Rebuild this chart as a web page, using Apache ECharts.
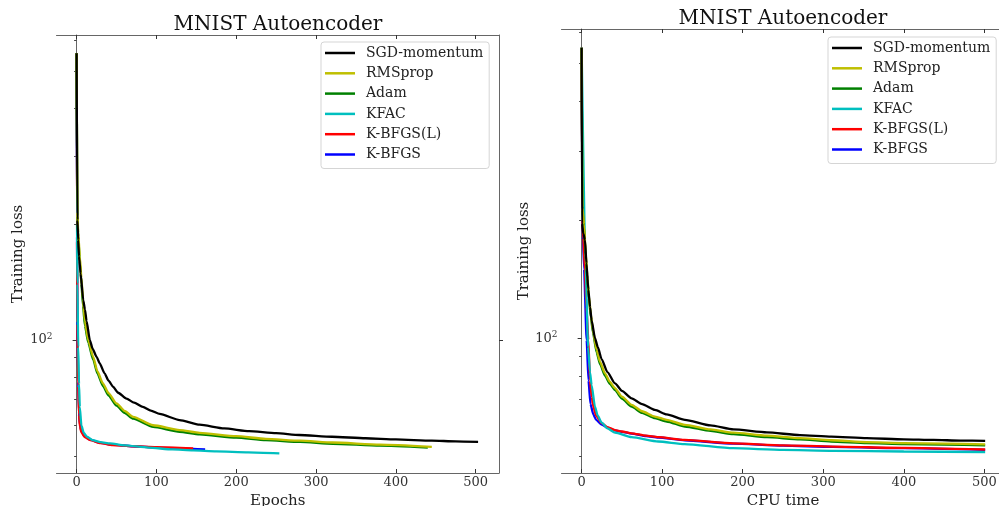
<!DOCTYPE html>
<html>
<head>
<meta charset="utf-8">
<script src="https://cdn.jsdelivr.net/npm/echarts@6.0.0/dist/echarts.min.js"></script>
<style>
  html, body { margin: 0; padding: 0; background: #fff; }
  #chart { width: 999px; height: 506px; }
</style>
</head>
<body>
<div id="chart"></div>
<script>
  // legend / series names
  const methods = ['SGD-momentum', 'RMSprop', 'Adam', 'KFAC', 'K-BFGS(L)', 'K-BFGS'];
  const colors = ['#000000', '#bfbf00', '#008000', '#00bfbf', '#ff0000', '#0000ff'];

  // tick values
  const xTicks = [0, 100, 200, 300, 400, 500];
  const lossMajorTicks = [100];
  const lossMinorTicks = [50, 60, 70, 80, 90, 200, 300, 400, 500, 600];

  // training loss vs epochs, [epoch, loss]
  const epochSgd = [[0, 556], [1, 205], [2, 182], [3, 165], [5, 149], [8.3, 127], [10.5, 120], [12.5, 112], [16.6, 100], [20, 95], [25, 90.5], [29, 87], [35, 82], [40, 78.5], [45.8, 75.6], [52, 73], [62.5, 70.5], [72, 68.8], [83, 67.1], [93, 65.6], [104, 64.3], [129, 62.0], [154, 60.3], [185, 59.0], [216, 58.0], [250, 57.3], [279, 56.7], [320, 56.1], [362, 55.6], [400, 55.2], [445, 54.8], [475, 54.6], [503, 54.4]];
  const epochRmsprop = [[0, 556], [1, 215], [2, 190], [4, 165], [6, 145], [8, 127], [10.4, 112], [14.5, 100], [20.8, 90.5], [26, 83], [33, 77.2], [40, 72.8], [50, 68.5], [60, 65.5], [70.8, 63.2], [95.8, 60.1], [129, 58.4], [154, 57.4], [200, 56.3], [237, 55.4], [280, 54.8], [321, 54.2], [380, 53.5], [445, 52.8]];
  const epochAdam = [[0, 556], [1, 210], [2, 186], [4, 160], [6, 140], [8, 123], [10.4, 109], [14.5, 98.5], [20.8, 89], [26, 82], [33, 76], [40, 71.8], [50, 67.6], [60, 64.7], [70.8, 62.5], [95.8, 59.5], [129, 57.8], [154, 56.9], [200, 55.8], [237, 55.0], [280, 54.4], [321, 53.8], [380, 53.2], [440, 52.6]];
  const epochKfac = [[0, 556], [0.5, 200], [1, 140], [2, 96], [3, 77], [4, 67], [6, 60], [9, 57.4], [13, 56.1], [20, 55.0], [30, 54.3], [42, 53.9], [60, 53.3], [90, 52.6], [120, 52.0], [146, 51.7], [175, 51.4], [215, 51.1], [254, 50.8]];
  const epochKbfgsL = [[0, 556], [0.5, 180], [1, 110], [2, 76], [3, 64], [4, 59.8], [6, 57.6], [10, 56.0], [17, 55.0], [30, 54.0], [45, 53.4], [70, 53.0], [100, 52.7], [146, 52.3]];
  const epochKbfgs = [[0, 556], [0.5, 185], [1, 112], [2, 78], [3, 65], [4, 60.5], [6, 58], [10, 56.2], [17, 55.1], [30, 54.1], [45, 53.5], [70, 53.0], [100, 52.6], [146, 52.2], [161, 52.0]];

  // training loss vs CPU time, [time, loss]
  const timeSgd = [[0, 549], [0.5, 196], [2, 185], [4.1, 178], [6, 155], [8.3, 133], [10.5, 120], [12.4, 111], [16.6, 100], [20, 95], [24.8, 88.5], [32, 82], [41.4, 76.8], [50, 73.5], [62.1, 70.3], [75, 68], [91, 65.7], [105.6, 64], [128.3, 62.0], [160, 60], [188.4, 58.6], [230, 57.6], [271, 56.7], [310, 56.2], [354, 55.7], [400, 55.3], [437, 55.1], [470, 54.9], [501, 54.8]];
  const timeRmsprop = [[0, 549], [1, 215], [3, 195], [5, 165], [7, 145], [9, 128], [11.5, 115], [14, 105], [18.6, 93.4], [23, 87], [29, 81.4], [35, 77.5], [41.4, 74.6], [50, 71], [62.1, 67.7], [75, 65.2], [91, 63.2], [105.6, 62.0], [128.3, 60.2], [160, 58.6], [188.4, 57.5], [230, 56.5], [271, 55.7], [310, 55.0], [354, 54.4], [400, 54.1], [450, 53.9], [501, 53.7]];
  const timeAdam = [[0, 549], [1, 212], [3, 192], [5, 162], [7, 142], [9, 126], [11.5, 113], [14, 103.5], [18.6, 92], [23, 85.8], [29, 80.3], [35, 76.6], [41.4, 73.8], [50, 70.2], [62.1, 67], [75, 64.6], [91, 62.6], [105.6, 61.4], [128.3, 59.6], [160, 58.1], [188.4, 57.0], [230, 56.0], [271, 55.3], [310, 54.6], [354, 54.1], [400, 53.8], [450, 53.6], [501, 53.4]];
  const timeKfac = [[0, 549], [5, 150], [8, 95], [10.4, 82], [12.4, 76], [16.5, 67], [20, 63.5], [24.8, 61], [32, 59], [41.4, 57.5], [62.1, 56], [95, 54.6], [128, 53.8], [188, 52.5], [250, 52.0], [312, 51.7], [400, 51.5], [501, 51.3]];
  const timeKbfgsL = [[0, 549], [1, 200], [2, 180], [4, 150], [6, 120], [8.3, 99], [10.4, 78], [12.5, 71], [14.5, 67], [18, 63.5], [24.8, 60.8], [32, 59.4], [41.4, 58.4], [50, 57.9], [62.1, 57.3], [80, 56.5], [95, 56.0], [128, 55.1], [188, 54.0], [250, 53.4], [312, 53.0], [400, 52.6], [501, 52.1]];
  const timeKbfgs = [[0, 549], [1, 200], [3, 150], [6.2, 99], [8.5, 78], [11, 68], [14.5, 64], [18, 62], [24.8, 60.3], [32, 59.2], [41.4, 58.3], [50, 57.8], [62.1, 57.2], [80, 56.4], [95, 55.9], [128, 55.0], [188, 53.9], [250, 53.3], [312, 52.9], [400, 52.5], [501, 52.0]];

  const epochSeries = [epochSgd, epochRmsprop, epochAdam, epochKfac, epochKbfgsL, epochKbfgs];
  const timeSeries = [timeSgd, timeRmsprop, timeAdam, timeKfac, timeKbfgsL, timeKbfgs];

  const font = 'DejaVu Serif';
  const spine = '#666';

  function xAxes(gridIndex, min, max, name) {
    return [
      {
        gridIndex: gridIndex, type: 'value', min: min, max: max, position: 'bottom',
        name: name, nameLocation: 'middle', nameGap: 16,
        nameTextStyle: {fontFamily: font, fontSize: 15, color: '#222'},
        splitLine: {show: false},
        axisLine: {show: true, lineStyle: {color: spine, width: 1}},
        axisTick: {show: true, inside: true, length: 4, customValues: xTicks, lineStyle: {color: '#333'}},
        axisLabel: {customValues: xTicks, fontFamily: font, fontSize: 13, color: '#333', margin: 3}
      },
      {
        gridIndex: gridIndex, type: 'value', min: min, max: max, position: 'top',
        splitLine: {show: false},
        axisLine: {show: true, lineStyle: {color: spine, width: 1}},
        axisTick: {show: true, inside: true, length: 4, customValues: xTicks, lineStyle: {color: '#333'}},
        axisLabel: {show: false}
      }
    ];
  }

  function yAxes(gridIndex, min, max, nameGap) {
    return [
      {
        gridIndex: gridIndex, type: 'log', min: min, max: max, position: 'left',
        name: 'Training loss', nameLocation: 'middle', nameGap: nameGap,
        nameTextStyle: {fontFamily: font, fontSize: 15, color: '#222'},
        splitLine: {show: false},
        axisLine: {show: true, lineStyle: {color: spine, width: 1}},
        axisTick: {show: true, length: 4, customValues: lossMajorTicks, lineStyle: {color: '#333'}},
        axisLabel: {
          customValues: lossMajorTicks, margin: 4,
          formatter: () => '{b|10}{s|2}',
          rich: {
            b: {fontFamily: font, fontSize: 13, color: '#333'},
            s: {fontFamily: font, fontSize: 9, color: '#333', verticalAlign: 'top', padding: [0, 0, 7, 0]}
          }
        }
      },
      {
        gridIndex: gridIndex, type: 'log', min: min, max: max, position: 'left',
        splitLine: {show: false},
        axisLine: {show: false},
        axisTick: {show: true, length: 2.5, customValues: lossMinorTicks, lineStyle: {color: '#444'}},
        axisLabel: {show: false}
      },
      {
        gridIndex: gridIndex, type: 'log', min: min, max: max, position: 'right',
        splitLine: {show: false},
        axisLine: {show: true, lineStyle: {color: spine, width: 1}},
        axisTick: {show: true, length: 4, customValues: lossMajorTicks, lineStyle: {color: '#333'}},
        axisLabel: {show: false}
      }
    ];
  }

  function legend(left, top) {
    return {
      orient: 'vertical', left: left, top: top,
      data: methods, selectedMode: false,
      icon: 'path://M0,0H30V2.5H0Z',
      backgroundColor: 'rgba(255,255,255,0.85)', borderColor: '#d5d5d5', borderWidth: 1, borderRadius: 3,
      padding: [4, 6, 7, 4],
      itemWidth: 30, itemHeight: 14, itemGap: 6.3,
      textStyle: {fontFamily: font, fontSize: 14, color: '#222', padding: [0, 0, 0, 6]}
    };
  }

  const series = [];
  [epochSeries, timeSeries].forEach(function (group, g) {
    group.forEach(function (data, i) {
      series.push({
        name: methods[i], type: 'line', data: data,
        xAxisIndex: g * 2, yAxisIndex: g * 3,
        symbol: 'none', smooth: 0.2, smoothMonotone: 'x',
        lineStyle: {color: colors[i], width: 2.3},
        itemStyle: {color: colors[i]},
        z: 10 - i
      });
    });
  });

  const option = {
    animation: false,
    backgroundColor: '#fff',
    title: [
      {text: 'MNIST Autoencoder', left: 278, top: 15, textAlign: 'center', padding: 0,
        textStyle: {fontFamily: font, fontSize: 20, fontWeight: 'normal', color: '#111'}},
      {text: 'MNIST Autoencoder', left: 783, top: 8.5, textAlign: 'center', padding: 0,
        textStyle: {fontFamily: font, fontSize: 20, fontWeight: 'normal', color: '#111'}}
    ],
    legend: [legend(321, 42), legend(828, 37)],
    grid: [
      {left: 56.5, top: 35, width: 442.5, height: 438, containLabel: false, outerBoundsMode: 'none'},
      {left: 561.5, top: 29, width: 443, height: 444, containLabel: false, outerBoundsMode: 'none'}
    ],
    xAxis: xAxes(0, -25.2, 529.2, 'Epochs').concat(xAxes(1, -25, 525, 'CPU time')),
    yAxis: yAxes(0, 45.17, 620, 31).concat(yAxes(1, 45.4, 612.6, 30)),
    series: series
  };

  const chart = echarts.init(document.getElementById('chart'));
  chart.setOption(option);
</script>
</body>
</html>
